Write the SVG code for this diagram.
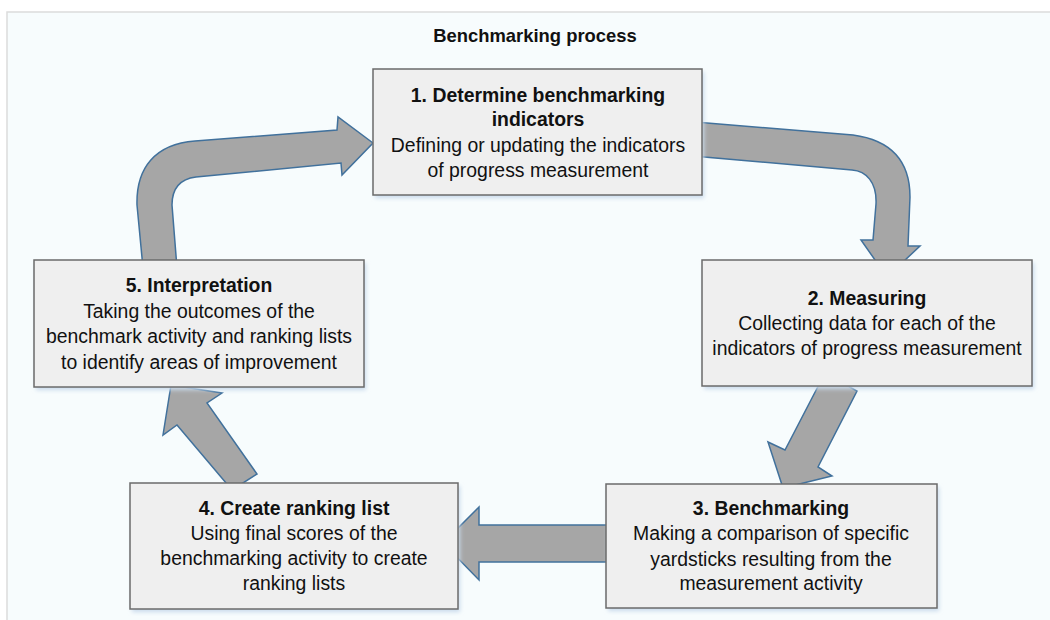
<svg xmlns="http://www.w3.org/2000/svg" width="1050" height="620" viewBox="0 0 1050 620">
<defs>
<filter id="sh" x="-5%" y="-5%" width="110%" height="120%"><feGaussianBlur stdDeviation="2"/></filter>
</defs>
<style>
.box{fill:#efefef;stroke:#6b6b6b;stroke-width:1.5}
.shadow{fill:#c9daec;filter:url(#sh)}
.arr{fill:#a6a6a6;stroke:#41719c;stroke-width:1.5;stroke-linejoin:miter}
text{font-family:"Liberation Sans",Arial,sans-serif;font-size:19.4px;fill:#111;text-anchor:middle}
.b{font-weight:bold}
.title{font-weight:bold;font-size:18.4px}
</style>
<rect x="0" y="0" width="1050" height="620" fill="#ffffff"/>
<rect x="7" y="12" width="1050" height="620" fill="#f7fcfd" stroke="#dcdcdc" stroke-width="1.5"/>
<text class="title" x="535" y="42">Benchmarking process</text>

<g id="connectors">
<path class="arr" d="M143,268 L137,205 C136,168 155,144 195,141 L337,130 L338,117 L373,143 L342,175 L341,163 L196,177 C180,179 172,188 172,205 L177,268 Z"/>
<path class="arr" d="M695,122 L853,135 C890,140 910,160 910,197 L908,246 L920,246 L887,277 L861,240 L873,240 L876,204 C877,182 866,171 852,170 L693,156 Z"/>
<path class="arr" d="M825,373 L857,391 L818,467 L832,476 L783,488 L768,442 L785,450 Z"/>
<path class="arr" d="M610,525 L479,525 L479,507 L443,543 L479,580 L479,562 L610,562 Z"/>
<path class="arr" d="M232,490 L257,474 L207,403 L222,393 L171,385 L163,435 L177,425 Z"/>
</g>

<g id="node1">
<rect class="shadow" x="375" y="72" width="329" height="126"/>
<rect class="box" x="373" y="69" width="329" height="126"/>
<text class="b" x="538" y="102">1. Determine benchmarking</text>
<text class="b" x="538" y="126">indicators</text>
<text x="538" y="152">Defining or updating the indicators</text>
<text x="538" y="177">of progress measurement</text>
</g>

<g id="node2">
<rect class="shadow" x="704" y="263" width="330" height="126"/>
<rect class="box" x="702" y="260" width="330" height="126"/>
<text class="b" x="867" y="305">2. Measuring</text>
<text x="867" y="330">Collecting data for each of the</text>
<text x="867" y="355">indicators of progress measurement</text>
</g>

<g id="node3">
<rect class="shadow" x="608" y="487" width="331" height="124"/>
<rect class="box" x="606" y="484" width="331" height="124"/>
<text class="b" x="771" y="515">3. Benchmarking</text>
<text x="771" y="540">Making a comparison of specific</text>
<text x="771" y="566">yardsticks resulting from the</text>
<text x="771" y="590">measurement activity</text>
</g>

<g id="node4">
<rect class="shadow" x="132" y="486" width="328" height="126"/>
<rect class="box" x="130" y="483" width="328" height="126"/>
<text class="b" x="294" y="515">4. Create ranking list</text>
<text x="294" y="540">Using final scores of the</text>
<text x="294" y="565">benchmarking activity to create</text>
<text x="294" y="590">ranking lists</text>
</g>

<g id="node5">
<rect class="shadow" x="36" y="263" width="330" height="127"/>
<rect class="box" x="34" y="260" width="330" height="127"/>
<text class="b" x="199" y="292">5. Interpretation</text>
<text x="199" y="318">Taking the outcomes of the</text>
<text x="199" y="343">benchmark activity and ranking lists</text>
<text x="199" y="369">to identify areas of improvement</text>
</g>
</svg>
